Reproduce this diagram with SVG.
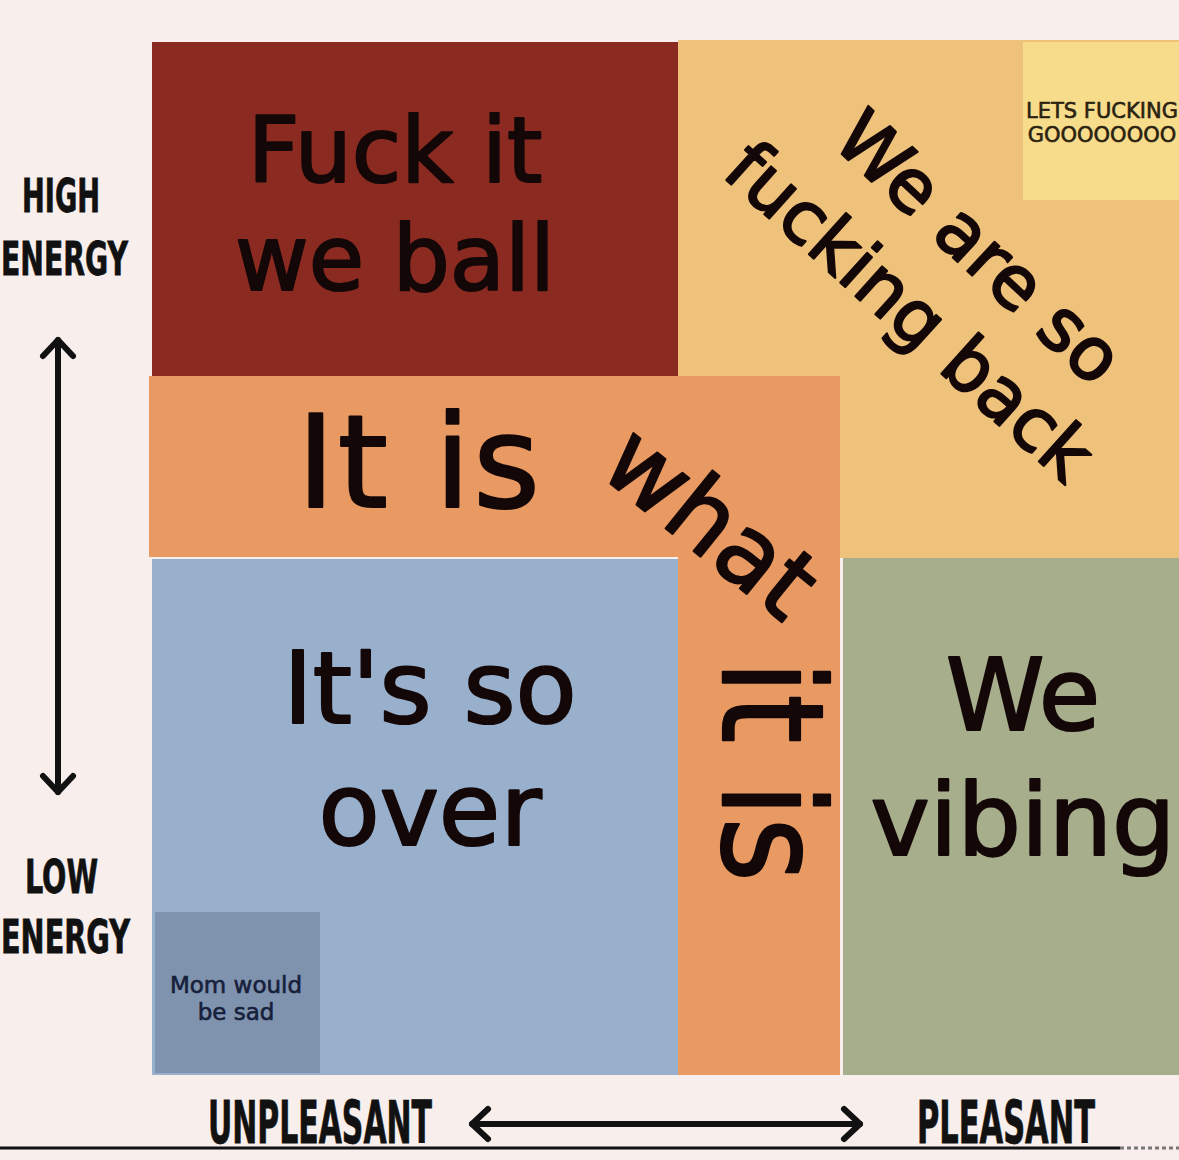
<svg xmlns="http://www.w3.org/2000/svg" width="1179" height="1160" viewBox="0 0 1179 1160">
<defs>
<style>
.big{font-family:"DejaVu Sans","Verdana",sans-serif;fill:#140707;stroke:#140707;stroke-width:2.2;stroke-linejoin:round;}
.axis{font-family:"Liberation Sans Narrow","DejaVu Sans Condensed","Liberation Sans",sans-serif;font-weight:bold;fill:#111;stroke:#111;stroke-width:0.8;}
.small{font-family:"DejaVu Sans",sans-serif;stroke-width:0.6;}
.arrow{stroke:#111;stroke-width:6;fill:none;stroke-linecap:round;}
</style>
<marker id="chev" markerUnits="userSpaceOnUse" viewBox="0 0 36 36" markerWidth="36" markerHeight="36" refX="31" refY="18" orient="auto-start-reverse" overflow="visible">
<path d="M15 3 L31 18 L15 33" fill="none" stroke="#111" stroke-width="6" stroke-linecap="round" stroke-linejoin="round"/>
</marker>
</defs>
<rect width="1179" height="1160" fill="#f8efed"/>

<g id="node-back">
<rect x="678" y="40" width="501" height="518" fill="#efc27c"/>
<text class="big" font-size="73" text-anchor="middle" transform="translate(962,266) rotate(43)">We are so</text>
<text class="big" font-size="73" text-anchor="middle" transform="translate(893,330) rotate(42)">fucking back</text>
</g>

<g id="node-lets-go">
<rect x="1023" y="42" width="156" height="158" fill="#f7dc8c"/>
<text class="small" font-size="21" text-anchor="middle" x="1102" y="118" fill="#2a2210" stroke="#2a2210">LETS FUCKING</text>
<text class="small" font-size="21" text-anchor="middle" x="1102" y="142" fill="#2a2210" stroke="#2a2210">GOOOOOOOO</text>
</g>

<g id="node-ball">
<rect x="152" y="42" width="526" height="334" fill="#8b2a20"/>
<text class="big" font-size="90" text-anchor="middle" x="395" y="182">Fuck it</text>
<text class="big" font-size="90" text-anchor="middle" x="395" y="290">we ball</text>
</g>

<g id="node-it-is">
<path d="M149 376 H840 V1075 H678 V557 H149 Z" fill="#e99a62"/>
<text class="big" font-size="128" x="297" y="507" letter-spacing="3">It is</text>
<text class="big" font-size="98" text-anchor="middle" transform="translate(690,548) rotate(39)">what</text>
<text class="big" font-size="140" textLength="222" lengthAdjust="spacingAndGlyphs" transform="translate(723,660) rotate(90)">it is</text>
</g>

<g id="node-over">
<rect x="152" y="559" width="526" height="516" fill="#98b0cc"/>
<text class="big" font-size="100" text-anchor="middle" x="430" y="723" fill="#0d1222" stroke="#0d1222">It's so</text>
<text class="big" font-size="100" text-anchor="middle" x="430" y="845" fill="#0d1222" stroke="#0d1222">over</text>
</g>

<g id="node-mom">
<rect x="155" y="912" width="165" height="161" fill="#7f93ae"/>
<text class="small" font-size="23" text-anchor="middle" x="236" y="993" fill="#16203a" stroke="#16203a">Mom would</text>
<text class="small" font-size="23" text-anchor="middle" x="236" y="1020" fill="#16203a" stroke="#16203a">be sad</text>
</g>

<g id="node-vibing">
<rect x="843" y="558" width="336" height="517" fill="#a6ae8c"/>
<text class="big" font-size="100" text-anchor="middle" x="1023" y="730" fill="#0a0a0a" stroke="#0a0a0a">We</text>
<text class="big" font-size="100" text-anchor="middle" x="1023" y="855" fill="#0a0a0a" stroke="#0a0a0a">vibing</text>
</g>

<g id="axis-labels">
<text class="axis" font-size="47" x="22" y="212" textLength="78" lengthAdjust="spacingAndGlyphs">HIGH</text>
<text class="axis" font-size="47" x="1" y="275" textLength="127" lengthAdjust="spacingAndGlyphs">ENERGY</text>
<text class="axis" font-size="47" x="25" y="893" textLength="73" lengthAdjust="spacingAndGlyphs">LOW</text>
<text class="axis" font-size="47" x="1" y="953" textLength="129" lengthAdjust="spacingAndGlyphs">ENERGY</text>
<text class="axis" font-size="58" x="208" y="1143" textLength="224" lengthAdjust="spacingAndGlyphs">UNPLEASANT</text>
<text class="axis" font-size="58" x="917" y="1143" textLength="178" lengthAdjust="spacingAndGlyphs">PLEASANT</text>
</g>

<g id="connectors">
<line class="arrow" x1="58" y1="340" x2="58" y2="792" marker-start="url(#chev)" marker-end="url(#chev)"/>
<line class="arrow" x1="472" y1="1124" x2="860" y2="1124" marker-start="url(#chev)" marker-end="url(#chev)"/>
<line x1="0" y1="1148" x2="1120" y2="1148" stroke="#111" stroke-width="3"/>
<line x1="1120" y1="1148" x2="1179" y2="1148" stroke="#777" stroke-width="3" stroke-dasharray="4 3"/>
</g>
</svg>
